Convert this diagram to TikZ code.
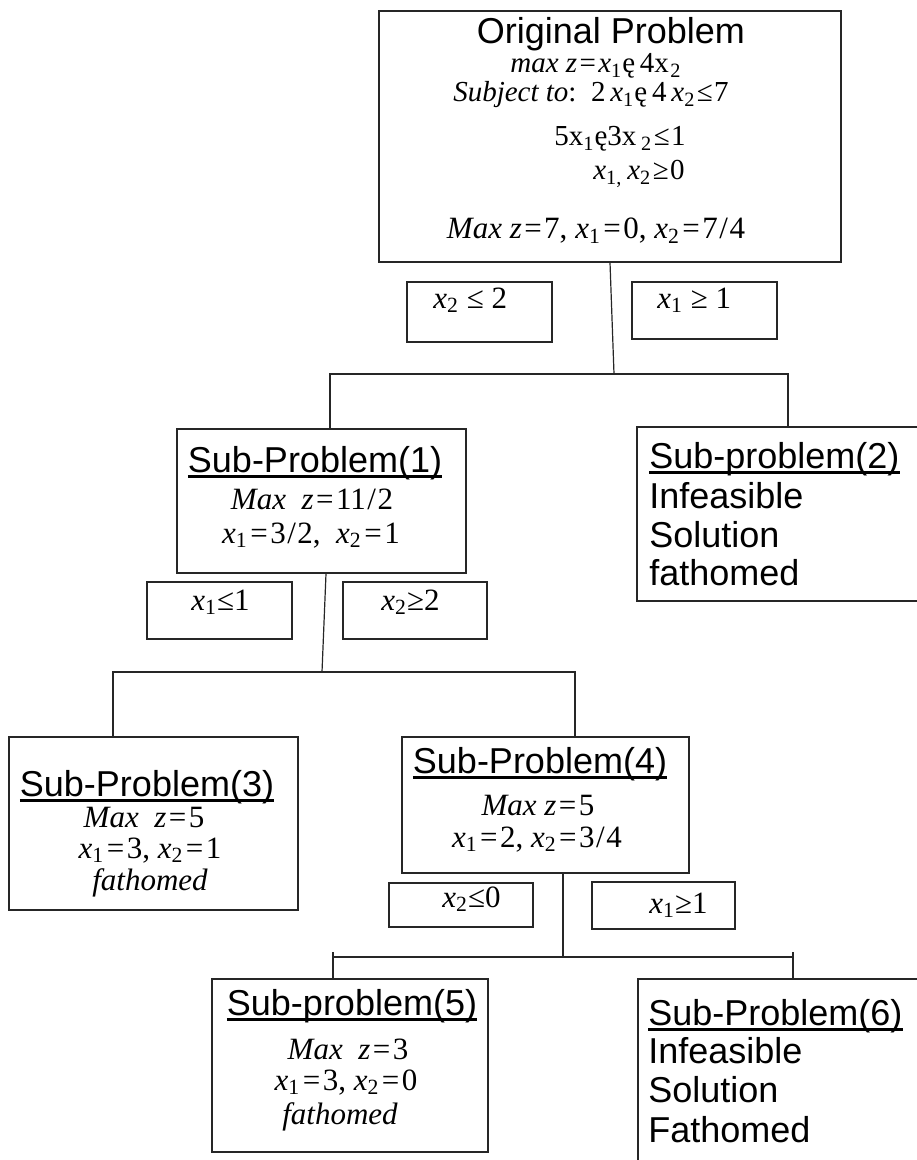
\documentclass[tikz,border=0pt]{standalone}
\usepackage{fontspec}
\setmainfont{Liberation Serif}
\newfontfamily\arialfont{Liberation Sans}
\usetikzlibrary{fit}

% 变量与符号
\newcommand{\xv}[1]{\textit{x}\textsubscript{#1}}
\newcommand{\xr}[1]{x\textsubscript{#1}}
\newcommand{\ee}{ę}
\newcommand{\eq}{\kern0.08em=\kern0.08em}
\newcommand{\hdline}[1]{\setbox0\hbox{#1}\rlap{\rule[-3pt]{\wd0}{1.3pt}}\box0}

\begin{document}
\begin{tikzpicture}[x=0.5pt, y=-0.5pt,
    box/.style={draw=black!85, line width=0.6pt, inner sep=0pt},
    head/.style={font=\arialfont\fontsize{18}{21}\selectfont, inner sep=0pt},
    eqn/.style={font=\fontsize{15.5}{18}\selectfont, inner sep=0pt},
    eqs/.style={font=\fontsize{14.5}{17}\selectfont, inner sep=0pt},
    link/.style={draw=black!85, line width=0.6pt}]

    \useasboundingbox (0,0) rectangle (916,1160);

    % 原问题
    \node[box, fit={(379,11) (841,262)}] (root) {};
    \node[head, anchor=base] (roottitle) at (611,44) {Original Problem};
    \node[eqs, anchor=base] (rootobj) at (596,73) {\textit{max z}\eq\xv{1}\ee\,4x\kern0.05em\textsubscript{2}};
    \node[eqs, anchor=base] (rootc1) at (591,102) {\textit{Subject to}:\enskip 2\,\xv{1}\ee\,4\,\xv{2}\kern0.05em≤\kern0.05em7};
    \node[eqs, anchor=base] (rootc2) at (620,146) {5\xr{1}\ee3x\,\textsubscript{2}\kern0.05em≤\kern0.05em1};
    \node[eqs, anchor=base] (rootc3) at (639,180) {\textit{x}\textsubscript{1,}\,\xv{2}\kern0.05em≥\kern0.05em0};
    \node[eqn, anchor=base] (rootsol) at (596,239) {\textit{Max z}\eq 7,\ \xv{1}\eq 0,\ \xv{2}\eq 7\kern0.05em/\kern0.05em4};

    % 第一层分支条件
    \node[box, fit={(407,282) (552,342)}] (br1) {};
    \node[eqn, anchor=base west] at (433,308) (br1t) {\xv{2} ≤ 2};
    \node[box, fit={(632,282) (777,339)}] (br2) {};
    \node[eqn, anchor=base west] at (657,308) (br2t) {\xv{1} ≥ 1};

    % 子问题 1
    \node[box, fit={(177,429) (466,573)}] (s1) {};
    \node[head, anchor=base] (s1title) at (315,472) {\hdline{Sub-Problem(1)}};
    \node[eqn, anchor=base] (s1obj) at (312,509) {\textit{Max\ \ z}\eq 11\kern0.05em/\kern0.05em2};
    \node[eqn, anchor=base] (s1sol) at (311,543) {\xv{1}\eq 3\kern0.05em/\kern0.05em2,\ \ \xv{2}\eq 1};

    % 子问题 2
    \node[box, fit={(637,427) (930,601)}] (s2) {};
    \node[head, anchor=base west] (s2title) at (649,468) {\hdline{Sub-problem(2)}};
    \node[head, anchor=base west] (s2l1) at (649,508) {Infeasible};
    \node[head, anchor=base west] (s2l2) at (649,547) {Solution};
    \node[head, anchor=base west] (s2l3) at (649,585) {fathomed};

    % 第二层分支条件
    \node[box, fit={(147,582) (292,639)}] (br3) {};
    \node[eqn, anchor=base west] at (191,610) (br3t) {\xv{1}≤1};
    \node[box, fit={(343,582) (487,639)}] (br4) {};
    \node[eqn, anchor=base west] at (381,610) (br4t) {\xv{2}≥2};

    % 子问题 3
    \node[box, fit={(9,737) (298,910)}] (s3) {};
    \node[head, anchor=base] (s3title) at (147,796) {\hdline{Sub-Problem(3)}};
    \node[eqn, anchor=base] (s3obj) at (144,827) {\textit{Max\ \ z}\eq 5};
    \node[eqn, anchor=base] (s3sol) at (150,858) {\xv{1}\eq 3,\ \xv{2}\eq 1};
    \node[eqn, anchor=base] (s3end) at (150,890) {\textit{fathomed}};

    % 子问题 4
    \node[box, fit={(402,737) (689,873)}] (s4) {};
    \node[head, anchor=base] (s4title) at (540,773) {\hdline{Sub-Problem(4)}};
    \node[eqn, anchor=base] (s4obj) at (538,815) {\textit{Max z}\eq 5};
    \node[eqn, anchor=base] (s4sol) at (537,847) {\xv{1}\eq 2,\ \xv{2}\eq 3\kern0.05em/\kern0.05em4};

    % 第三层分支条件
    \node[box, fit={(389,883) (533,927)}] (br5) {};
    \node[eqn, anchor=base west] at (442,907) (br5t) {\xv{2}≤0};
    \node[box, fit={(592,882) (735,929)}] (br6) {};
    \node[eqn, anchor=base west] at (649,913) (br6t) {\xv{1}≥1};

    % 子问题 5
    \node[box, fit={(212,979) (488,1152)}] (s5) {};
    \node[head, anchor=base] (s5title) at (352,1015) {\hdline{Sub-problem(5)}};
    \node[eqn, anchor=base] (s5obj) at (348,1059) {\textit{Max\ \ z}\eq 3};
    \node[eqn, anchor=base] (s5sol) at (346,1090) {\xv{1}\eq 3,\ \xv{2}\eq 0};
    \node[eqn, anchor=base] (s5end) at (340,1124) {\textit{fathomed}};

    % 子问题 6
    \node[box, fit={(638,979) (930,1175)}] (s6) {};
    \node[head, anchor=base west] (s6title) at (648,1025) {\hdline{Sub-Problem(6)}};
    \node[head, anchor=base west] (s6l1) at (648,1063) {Infeasible};
    \node[head, anchor=base west] (s6l2) at (648,1102) {Solution};
    \node[head, anchor=base west] (s6l3) at (648,1142) {Fathomed};

    % 连线
    \coordinate (j1) at (614,374);
    \coordinate (j1l) at (330,374);
    \coordinate (j1r) at (788,374);
    \draw[link] (root.south) -- (j1);
    \draw[link] (j1l |- s1.north) -- (j1l) -- (j1r) -- (j1r |- s2.north);

    \coordinate (j2) at (322,672);
    \coordinate (j2l) at (113,672);
    \coordinate (j2r) at (575,672);
    \draw[link] ([xshift=2.25pt]s1.south) -- (j2);
    \draw[link] (j2l |- s3.north) -- (j2l) -- (j2r) -- (j2r |- s4.north);

    \coordinate (j3) at (563,957);
    \coordinate (j3l) at (333,957);
    \coordinate (j3r) at (793,957);
    \coordinate (t3l) at (333,952);
    \coordinate (t3r) at (793,952);
    \draw[link] ([xshift=8.75pt]s4.south) -- (j3);
    \draw[link] (j3l) -- (j3r);
    \draw[link] (t3l) -- (t3l |- s5.north);
    \draw[link] (t3r) -- (t3r |- s6.north);

\end{tikzpicture}
\end{document}
